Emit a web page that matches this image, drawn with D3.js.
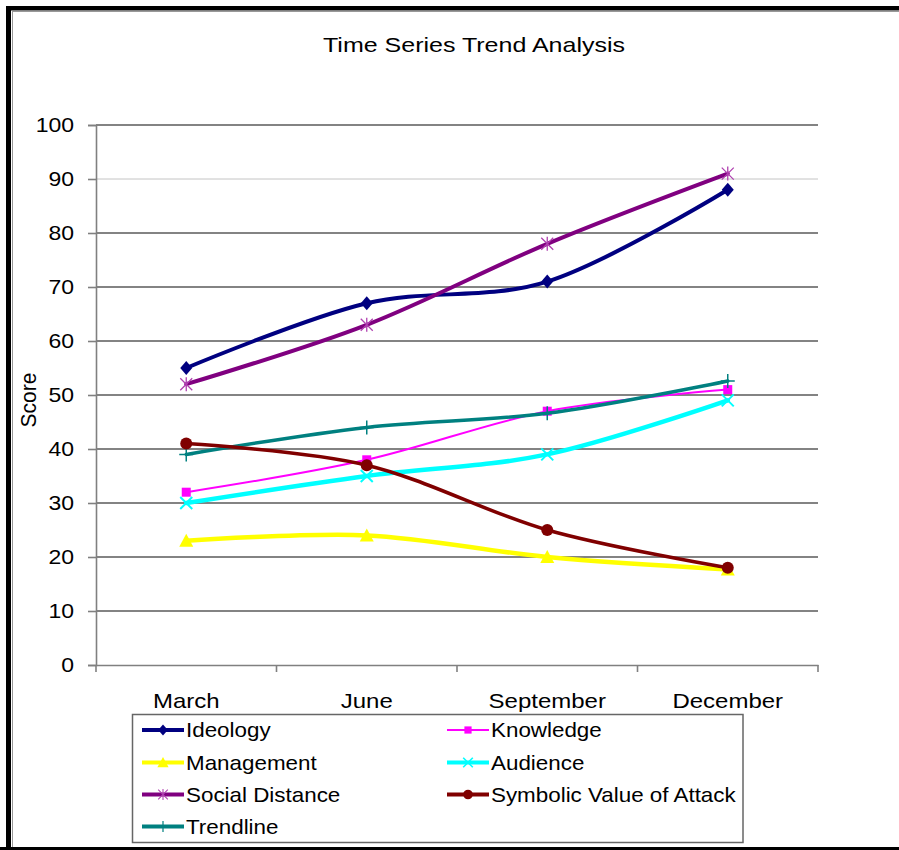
<!DOCTYPE html>
<html><head><meta charset="utf-8">
<script src="https://cdn.jsdelivr.net/npm/d3@7"></script>
<style>html,body{margin:0;padding:0;background:#fff}svg{display:block}text{font-family:"Liberation Sans",Arial,sans-serif;fill:#000}</style>
</head><body>
<script>
const categories = ["March", "June", "September", "December"];
const yTicks = [0, 10, 20, 30, 40, 50, 60, 70, 80, 90, 100];
const seriesNames = ["Ideology", "Knowledge", "Management", "Audience", "Social Distance", "Symbolic Value of Attack", "Trendline"];
const ideology = [55, 67, 71, 88];
const knowledge = [32, 38, 47, 51];
const management = [23, 24, 20, 17.7];
const audience = [30, 35, 39, 49];
const socialDistance = [52, 63, 78, 91];
const symbolicValue = [41, 37, 25, 18];
const trendline = [39, 44, 46.6, 52.6];

const W = 899, H = 850;
const svg = d3.select("body").append("svg").attr("width", W).attr("height", H);

const styles = {
  "Ideology": {data: ideology, color: "#000080", width: 4, marker: "diamond"},
  "Knowledge": {data: knowledge, color: "#FF00FF", width: 2, marker: "square"},
  "Management": {data: management, color: "#FFFF00", width: 4.5, marker: "triangle"},
  "Audience": {data: audience, color: "#00FFFF", width: 4.5, marker: "x"},
  "Social Distance": {data: socialDistance, color: "#800080", width: 4, marker: "star", mcolor: "#B040B0"},
  "Symbolic Value of Attack": {data: symbolicValue, color: "#800000", width: 3.5, marker: "circle"},
  "Trendline": {data: trendline, color: "#008080", width: 3.5, marker: "plus"}
};

function stext(g, x, y, str, size, anchor, sx) {
  return g.append("text")
    .attr("transform", `translate(${x},${y}) scale(${sx},1)`)
    .attr("font-size", size).attr("text-anchor", anchor || "start").text(str);
}

// borders
svg.append("rect").attr("x", 6).attr("y", 6).attr("width", 5).attr("height", H - 6).attr("fill", "#000");
svg.append("rect").attr("x", 6).attr("y", 6).attr("width", W - 6).attr("height", 4.5).attr("fill", "#000");
svg.append("rect").attr("x", 0).attr("y", 847).attr("width", W).attr("height", 3).attr("fill", "#000");
svg.append("line").attr("x1", 12.5).attr("x2", 12.5).attr("y1", 11).attr("y2", 847).attr("stroke", "#999").attr("stroke-width", 1);
svg.append("line").attr("x1", 12).attr("x2", W).attr("y1", 11.5).attr("y2", 11.5).attr("stroke", "#999").attr("stroke-width", 1);

// title
stext(svg, 474, 52, "Time Series Trend Analysis", 20.5, "middle", 1.22);

const x0 = 96, x1 = 818, yTop = 125, yBot = 665;
const xBand = d3.scaleBand().domain(categories).range([x0, x1]).padding(0);
const xPt = d3.scalePoint().domain(categories).range([x0, x1]).padding(0.5);
const y = d3.scaleLinear().domain([0, 100]).range([yBot, yTop]);

// grid
const grid = svg.append("g");
grid.selectAll("line").data(yTicks.filter(d => d > 0)).join("line")
  .attr("x1", x0).attr("x2", x1).attr("y1", d => y(d)).attr("y2", d => y(d))
  .attr("stroke", d => d === 90 ? "#c4c4c4" : "#5a5a5a").attr("stroke-width", d => d === 90 ? 1 : 1.6);

// y axis
const yAx = svg.append("g").attr("transform", `translate(${x0},0)`)
  .call(d3.axisLeft(y).tickValues(yTicks).tickSize(8).tickFormat(""));
yAx.select(".domain").attr("stroke", "#808080").attr("stroke-width", 1.6);
yAx.selectAll(".tick line").attr("stroke", "#808080").attr("stroke-width", 1.6);
yTicks.forEach(t => stext(svg, 74, y(t) + 7.2, String(t), 20, "end", 1.15));

// x axis
const xAx = svg.append("g").attr("transform", `translate(0,${yBot})`)
  .call(d3.axisBottom(xBand).tickSize(0).tickFormat(""));
xAx.select(".domain").attr("stroke", "#808080").attr("stroke-width", 1.6);
xAx.selectAll(".tick").remove();
const bounds = categories.map(c => xBand(c)).concat([x1]);
svg.append("g").selectAll("line").data(bounds).join("line")
  .attr("x1", d => d).attr("x2", d => d).attr("y1", yBot).attr("y2", yBot + 7)
  .attr("stroke", "#808080").attr("stroke-width", 1.6);
categories.forEach(c => stext(svg, xPt(c), 708, c, 20, "middle", 1.2));

// y label
svg.append("text").attr("transform", `translate(36,400) rotate(-90) scale(1.05,1.1)`)
  .attr("font-size", 20).attr("text-anchor", "middle").text("Score");

function drawMarker(g, type, cx, cy, color, s) {
  s = s || 1;
  const m = g.append("g").attr("transform", `translate(${cx},${cy}) scale(${s})`);
  if (type === "diamond") m.append("path").attr("d", "M0,-7L6,0L0,7L-6,0Z").attr("fill", color);
  else if (type === "square") m.append("rect").attr("x", -4.5).attr("y", -4.5).attr("width", 9).attr("height", 9).attr("fill", color);
  else if (type === "triangle") m.append("path").attr("d", "M0,-7L7,6L-7,6Z").attr("fill", color);
  else if (type === "circle") m.append("circle").attr("r", 6).attr("fill", color);
  else if (type === "x") m.append("path").attr("d", "M-6,-6L6,6M-6,6L6,-6").attr("stroke", color).attr("stroke-width", 2).attr("fill", "none");
  else if (type === "plus") m.append("path").attr("d", "M-7,0L7,0M0,-7L0,7").attr("stroke", color).attr("stroke-width", 1.5).attr("fill", "none");
  else if (type === "star") m.append("path").attr("d", "M-6,-6L6,6M-6,6L6,-6M0,-7L0,7").attr("stroke", color).attr("stroke-width", 1.3).attr("fill", "none");
}

const line = d3.line().x((d, i) => xPt(categories[i])).y(d => y(d)).curve(d3.curveCardinal.tension(0));
const order = ["Management", "Audience", "Knowledge", "Trendline", "Symbolic Value of Attack", "Ideology", "Social Distance"];
const plot = svg.append("g");
order.forEach(name => {
  const s = styles[name];
  plot.append("path").datum(s.data).attr("d", line).attr("fill", "none")
    .attr("stroke", s.color).attr("stroke-width", s.width).attr("stroke-linejoin", "round").attr("stroke-linecap", "round");
  s.data.forEach((v, i) => drawMarker(plot, s.marker, xPt(categories[i]), y(v), s.mcolor || s.color));
});

// legend
const lg = svg.append("g");
lg.append("rect").attr("x", 132.5).attr("y", 714.5).attr("width", 610.5).attr("height", 128).attr("fill", "#fff")
  .attr("stroke", "#666").attr("stroke-width", 1.5);
const rowY = [730, 762.5, 794.5, 826.5];
const colX = [142, 447];
seriesNames.forEach((name, i) => {
  const s = styles[name];
  const cx = colX[i % 2], cy = rowY[Math.floor(i / 2)];
  lg.append("line").attr("x1", cx).attr("x2", cx + 42).attr("y1", cy).attr("y2", cy)
    .attr("stroke", s.color).attr("stroke-width", s.width === 2 ? 2 : 4);
  drawMarker(lg, s.marker, cx + 21, cy, s.mcolor || s.color, 0.8);
  stext(lg, cx + 44, cy + 7.2, name, 20, "start", 1.12);
});
</script>
</body></html>
